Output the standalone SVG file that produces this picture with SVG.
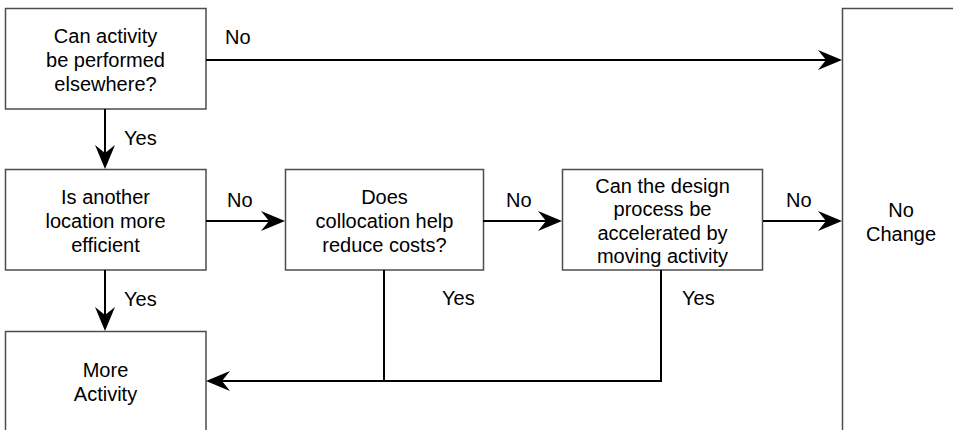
<svg xmlns="http://www.w3.org/2000/svg" width="953" height="430" viewBox="0 0 953 430">
  <style>
    .box { fill: #ffffff; stroke: #4d4d4d; stroke-width: 1.5; }
    .txt { font-family: "Liberation Sans", Arial, sans-serif; font-size: 20px; fill: #000000; text-anchor: middle; }
    .lbl { font-family: "Liberation Sans", Arial, sans-serif; font-size: 20px; fill: #000000; }
    .conn { fill: none; stroke: #000000; stroke-width: 2; }
  </style>
  <defs>
    <marker id="arrow" markerUnits="userSpaceOnUse" viewBox="-25 -11 26 22" markerWidth="26" markerHeight="22" refX="-8" refY="0" orient="auto">
      <path d="M0,0 L-24,-10 L-16,0 L-24,10 Z" fill="#000000"/>
    </marker>
  </defs>
  <rect width="953" height="430" fill="#ffffff"/>

  <g id="q-elsewhere">
    <rect class="box" x="5.5" y="8.5" width="200.5" height="100.5"/>
    <text class="txt" x="105.5" y="43">Can activity</text>
    <text class="txt" x="105.5" y="67">be performed</text>
    <text class="txt" x="105.5" y="91">elsewhere?</text>
  </g>

  <g id="q-location">
    <rect class="box" x="5.5" y="169.5" width="200.5" height="100.5"/>
    <text class="txt" x="105.5" y="204">Is another</text>
    <text class="txt" x="105.5" y="228">location more</text>
    <text class="txt" x="105.5" y="252">efficient</text>
  </g>

  <g id="more-activity">
    <rect class="box" x="5.5" y="331.5" width="200.5" height="110"/>
    <text class="txt" x="105.5" y="377">More</text>
    <text class="txt" x="105.5" y="401">Activity</text>
  </g>

  <g id="q-collocation">
    <rect class="box" x="285.5" y="169.5" width="198" height="100.5"/>
    <text class="txt" x="384.5" y="204">Does</text>
    <text class="txt" x="384.5" y="228">collocation help</text>
    <text class="txt" x="384.5" y="252">reduce costs?</text>
  </g>

  <g id="q-accelerate">
    <rect class="box" x="562.5" y="169.5" width="200" height="100.5"/>
    <text class="txt" x="662.5" y="193">Can the design</text>
    <text class="txt" x="662.5" y="216">process be</text>
    <text class="txt" x="662.5" y="239.5">accelerated by</text>
    <text class="txt" x="662.5" y="263">moving activity</text>
  </g>

  <g id="no-change">
    <rect class="box" x="842.5" y="8.5" width="120" height="440"/>
    <text class="txt" x="901" y="217">No</text>
    <text class="txt" x="901" y="241">Change</text>
  </g>

  <g id="connectors">
    <path class="conn" d="M206,60 H834" marker-end="url(#arrow)"/>
    <path class="conn" d="M105,109 V161" marker-end="url(#arrow)"/>
    <path class="conn" d="M105,270 V323" marker-end="url(#arrow)"/>
    <path class="conn" d="M206,221 H277" marker-end="url(#arrow)"/>
    <path class="conn" d="M483,221 H554" marker-end="url(#arrow)"/>
    <path class="conn" d="M763,221 H834" marker-end="url(#arrow)"/>
    <path class="conn" d="M384,270 V381"/>
    <path class="conn" d="M661,270 V381 H214" marker-end="url(#arrow)"/>

    <text class="lbl" x="225" y="44">No</text>
    <text class="lbl" x="124" y="145">Yes</text>
    <text class="lbl" x="227" y="207">No</text>
    <text class="lbl" x="506" y="207">No</text>
    <text class="lbl" x="786" y="207">No</text>
    <text class="lbl" x="124" y="306">Yes</text>
    <text class="lbl" x="442" y="305">Yes</text>
    <text class="lbl" x="682" y="305">Yes</text>
  </g>
</svg>
